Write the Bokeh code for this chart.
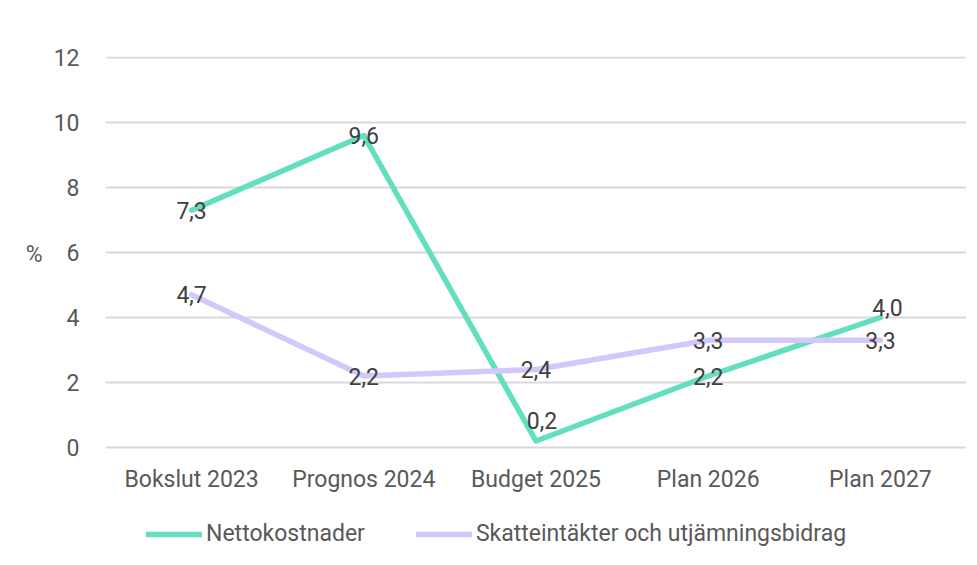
from bokeh.plotting import figure
from bokeh.models import ColumnDataSource, FixedTicker, Legend, LegendItem
from bokeh.core.properties import value
from bokeh.embed import file_html
from bokeh.resources import INLINE

categories = ["Bokslut 2023", "Prognos 2024", "Budget 2025", "Plan 2026", "Plan 2027"]
netto = [7.3, 9.6, 0.2, 2.2, 4.0]
skatt = [4.7, 2.2, 2.4, 3.3, 3.3]
series_names = ["Nettokostnader", "Skatteintäkter och utjämningsbidrag"]
y_ticks = [0, 2, 4, 6, 8, 10, 12]

# label nudges (screen px) – style only
netto_dx = [0, 0, 6, 0, 7]
netto_dy = [0, 0, -21, 0, -10]
skatt_dx = [0, 0, 0, 0, 0]
skatt_dy = [0, 0, 0, 0, 0]

FONT = "Roboto"
FS = "23px"
GREEN = "#62DFBF"
PURPLE = "#D3C7FB"

def fmt(v):
    return f"{v:.1f}".replace(".", ",")

src_n = ColumnDataSource(dict(x=categories, y=netto, t=[fmt(v) for v in netto], dx=netto_dx, dy=netto_dy))
src_s = ColumnDataSource(dict(x=categories, y=skatt, t=[fmt(v) for v in skatt], dx=skatt_dx, dy=skatt_dy))

# frame extends below the zero line to make room for category labels and legend
p = figure(x_range=categories, y_range=(-102 / 32.5, 12 + 1 / 32.5), width=966, height=549,
           output_backend="svg", toolbar_location=None,
           min_border_left=105, min_border_right=0, min_border_top=56, min_border_bottom=0)
p.outline_line_color = None
p.background_fill_color = "white"
p.border_fill_color = "white"

r1 = p.line("x", "y", source=src_n, line_color=GREEN, line_width=5.5, line_join="round", line_cap="round")
r2 = p.line("x", "y", source=src_s, line_color=PURPLE, line_width=5.5, line_join="round", line_cap="round")

for src in (src_n, src_s):
    p.text("x", "y", text="t", source=src, x_offset="dx", y_offset="dy",
           text_align="center", text_baseline="middle",
           text_font=value(FONT), text_font_size=FS, text_color="#404040")

p.xgrid.grid_line_color = None
p.ygrid.grid_line_color = "#d9d9d9"
p.ygrid.grid_line_width = 2

p.yaxis.ticker = FixedTicker(ticks=y_ticks)
p.yaxis.axis_line_color = None
p.yaxis.major_tick_line_color = None
p.yaxis.minor_tick_line_color = None
p.yaxis.major_label_text_font = FONT
p.yaxis.major_label_text_font_size = FS
p.yaxis.major_label_text_color = "#595959"
p.yaxis.major_label_standoff = 20
# trailing blank lines lift the "%" to the middle of the 0–12 span
p.yaxis.axis_label = "%\n\n\n"
p.yaxis.axis_label_orientation = "horizontal"
p.yaxis.axis_label_text_font = FONT
p.yaxis.axis_label_text_font_size = FS
p.yaxis.axis_label_text_font_style = "normal"
p.yaxis.axis_label_text_color = "#595959"
p.yaxis.axis_label_standoff = 8

p.xaxis.fixed_location = 0
p.xaxis.axis_line_color = None
p.xaxis.major_tick_line_color = None
p.xaxis.minor_tick_line_color = None
p.xaxis.major_label_text_font = FONT
p.xaxis.major_label_text_font_size = FS
p.xaxis.major_label_text_color = "#595959"
p.xaxis.major_label_standoff = 12

legend = Legend(items=[LegendItem(label=series_names[0], renderers=[r1]),
                       LegendItem(label=series_names[1], renderers=[r2])],
                orientation="horizontal", location=(41, 2),
                label_text_font=FONT, label_text_font_size=FS, label_text_color="#595959",
                glyph_width=56, glyph_height=20, label_standoff=4, spacing=51,
                border_line_color=None, background_fill_alpha=0, padding=0, margin=0)
p.add_layout(legend)

open("out.html", "w").write(file_html(p, INLINE))
